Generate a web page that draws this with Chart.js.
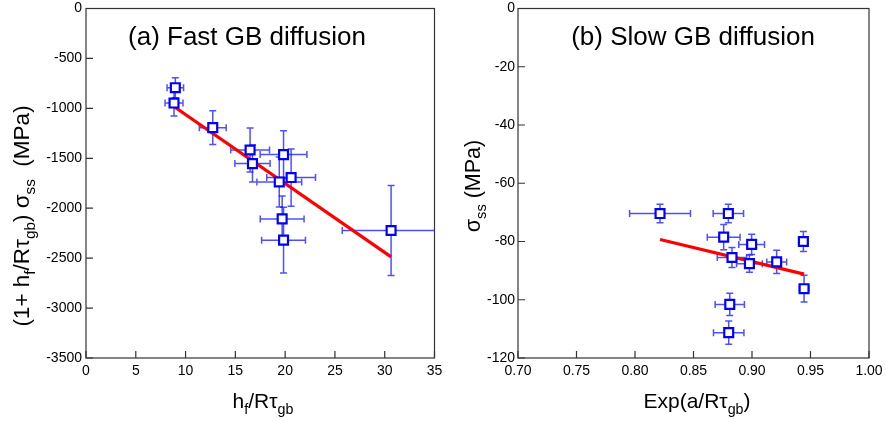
<!DOCTYPE html>
<html><head><meta charset="utf-8">
<script src="https://cdn.jsdelivr.net/npm/chart.js@4.4.0/dist/chart.umd.min.js"></script>
<style>
html,body{margin:0;padding:0;background:#fff;}
#wrap{position:relative;width:886px;height:422px;}
canvas{position:absolute;top:0;}
</style></head><body>
<div id="wrap">
<canvas id="c1" width="443" height="422" style="left:0"></canvas>
<canvas id="c2" width="443" height="422" style="left:443px"></canvas>
</div>
<script>
// ---- Panel (a): Fast GB diffusion ----
const xA    = [8.97, 8.84, 12.73, 16.48, 16.72, 19.84, 20.60, 19.41, 19.70, 19.84, 30.64];
const yA    = [-793, -947, -1193, -1417, -1553, -1463, -1693, -1737, -2107, -2320, -2223];
const xErrA = [0.83, 0.9, 1.35, 1.95, 1.77, 2.35, 2.45, 2.25, 2.2, 2.2, 4.9];
const yErrA = [100, 130, 170, 220, 185, 240, 287, 250, 230, 330, 450];
const fitXA = [8.9, 30.64];
const fitYA = [-987, -2487];
const ticksXA = [0, 5, 10, 15, 20, 25, 30, 35];
const ticksYA = [0, -500, -1000, -1500, -2000, -2500, -3000, -3500];

// ---- Panel (b): Slow GB diffusion ----
const xB    = [0.8214, 0.8798, 0.8758, 0.8997, 0.8829, 0.8978, 0.9211, 0.9439, 0.9445, 0.8810, 0.8801];
const yB    = [-70.4, -70.4, -78.5, -81.0, -85.5, -87.6, -87.0, -80.0, -96.2, -101.6, -111.3];
const xErrB = [0.026, 0.013, 0.014, 0.011, 0.0126, 0.011, 0.0085, 0.004, 0.004, 0.0125, 0.013];
const yErrB = [3.2, 3.2, 4.3, 3.5, 3.4, 3.0, 4.0, 3.4, 4.6, 3.8, 4.0];
const fitXB = [0.8214, 0.9445];
const fitYB = [-79.3, -91.2];
const ticksXB = ['0.70', '0.75', '0.80', '0.85', '0.90', '0.95', '1.00'];
const ticksYB = [0, -20, -40, -60, -80, -100, -120];

const FONT = "'Liberation Sans', Arial, Helvetica, sans-serif";

function drawRich(ctx, segs, x, y, size) {
  const subSize = size * 0.68;
  let total = 0;
  const w = segs.map(s => {
    ctx.font = (s.sub ? subSize : size) + 'px ' + FONT;
    const m = ctx.measureText(s.t).width;
    total += m;
    return m;
  });
  let cx = x - total / 2;
  ctx.textAlign = 'left';
  ctx.textBaseline = 'alphabetic';
  segs.forEach((s, i) => {
    ctx.font = (s.sub ? subSize : size) + 'px ' + FONT;
    ctx.fillText(s.t, cx, y + (s.sub ? size * 0.28 : 0));
    cx += w[i];
  });
}

function decoPlugin(cfg) {
  return {
    id: 'deco',
    beforeDatasetsDraw(chart) {
      const ctx = chart.ctx, a = chart.chartArea;
      const xs = chart.scales.x, ys = chart.scales.y;
      ctx.save();
      ctx.beginPath();
      ctx.rect(a.left, a.top, a.right - a.left, a.bottom - a.top);
      ctx.clip();
      ctx.strokeStyle = 'rgba(20,20,255,0.75)';
      ctx.lineWidth = 1.5;
      const cap = 3.5;
      cfg.x.forEach((xv, i) => {
        const px = xs.getPixelForValue(xv), py = ys.getPixelForValue(cfg.y[i]);
        const x1 = xs.getPixelForValue(xv - cfg.xe[i]), x2 = xs.getPixelForValue(xv + cfg.xe[i]);
        const y1 = ys.getPixelForValue(cfg.y[i] - cfg.ye[i]), y2 = ys.getPixelForValue(cfg.y[i] + cfg.ye[i]);
        ctx.beginPath();
        ctx.moveTo(x1, py); ctx.lineTo(x2, py);
        ctx.moveTo(x1, py - cap); ctx.lineTo(x1, py + cap);
        ctx.moveTo(x2, py - cap); ctx.lineTo(x2, py + cap);
        ctx.moveTo(px, y1); ctx.lineTo(px, y2);
        ctx.moveTo(px - cap, y1); ctx.lineTo(px + cap, y1);
        ctx.moveTo(px - cap, y2); ctx.lineTo(px + cap, y2);
        ctx.stroke();
      });
      ctx.restore();
    },
    afterDraw(chart) {
      const ctx = chart.ctx, a = chart.chartArea;
      const xs = chart.scales.x, ys = chart.scales.y;
      ctx.save();
      // frame
      ctx.strokeStyle = '#333';
      ctx.lineWidth = 1.2;
      ctx.strokeRect(a.left, a.top, a.right - a.left, a.bottom - a.top);
      // inward ticks
      ctx.beginPath();
      xs.ticks.forEach((t, i) => {
        const p = xs.getPixelForTick(i);
        ctx.moveTo(p, a.bottom); ctx.lineTo(p, a.bottom - 7);
      });
      ys.ticks.forEach((t, i) => {
        const p = ys.getPixelForTick(i);
        ctx.moveTo(a.left, p); ctx.lineTo(a.left + 7, p);
      });
      ctx.stroke();
      // title
      ctx.fillStyle = '#000';
      ctx.font = '26px ' + FONT;
      ctx.textAlign = 'center';
      ctx.textBaseline = 'alphabetic';
      ctx.fillText(cfg.title, cfg.titleX, 45);
      // x title
      drawRich(ctx, cfg.xTitle, cfg.xTitleX, 408, 21);
      // y title
      ctx.translate(cfg.yTitleX, cfg.yTitleY);
      ctx.rotate(-Math.PI / 2);
      drawRich(ctx, cfg.yTitle, 0, 0, cfg.yTitleSize);
      ctx.restore();
    }
  };
}

function makeChart(id, d) {
  const pts = d.x.map((v, i) => ({x: v, y: d.y[i]}));
  const fit = d.fx.map((v, i) => ({x: v, y: d.fy[i]}));
  return new Chart(document.getElementById(id), {
    type: 'scatter',
    data: {
      datasets: [
        {type: 'line', data: fit, borderColor: '#ff0000', borderWidth: 3.2, pointRadius: 0, fill: false, order: 1, tension: 0},
        {data: pts, pointStyle: 'rect', pointRadius: 6.3, pointBorderWidth: 2.2, borderColor: '#0000ff', backgroundColor: '#ffffff', pointBackgroundColor: '#ffffff', pointBorderColor: '#0000ff', order: 0}
      ]
    },
    options: {
      responsive: false,
      devicePixelRatio: 1,
      animation: false,
      layout: {padding: {left: 0, right: d.padRight, top: 8, bottom: 34}},
      plugins: {legend: {display: false}, tooltip: {enabled: false}},
      scales: {
        x: {
          type: 'linear', min: d.xmin, max: d.xmax,
          grid: {display: false, drawTicks: false},
          border: {display: false},
          afterBuildTicks: s => { s.ticks = d.tx.map(v => ({value: +v})); },
          ticks: {color: '#000', padding: 5, font: {family: FONT, size: 14}, maxRotation: 0, autoSkip: false,
                  callback: (v, i) => String(d.tx[i])},
          afterFit: s => { s.height = 30; s.paddingLeft = 0; s.paddingRight = 0; s.paddingTop = 0; s.paddingBottom = 0; }
        },
        y: {
          type: 'linear', min: d.ymin, max: d.ymax,
          grid: {display: false, drawTicks: false},
          border: {display: false},
          afterBuildTicks: s => { s.ticks = d.ty.map(v => ({value: v})).sort((p, q) => p.value - q.value); },
          ticks: {color: '#000', padding: d.yPad, font: {family: FONT, size: 14}, autoSkip: false,
                  callback: v => String(v)},
          afterFit: s => { s.width = d.yWidth; s.paddingLeft = 0; s.paddingRight = 0; s.paddingTop = 0; s.paddingBottom = 0; }
        }
      }
    },
    plugins: [decoPlugin(d.deco)]
  });
}

makeChart('c1', {
  x: xA, y: yA, fx: fitXA, fy: fitYA, tx: ticksXA, ty: ticksYA,
  xmin: 0, xmax: 35, ymin: -3500, ymax: 0, padRight: 6, yWidth: 86, yPad: 4,
  deco: {
    x: xA, y: yA, xe: xErrA, ye: yErrA,
    title: '(a) Fast GB diffusion', titleX: 247,
    xTitle: [{t: 'h'}, {t: 'f', sub: true}, {t: '/R\u03C4'}, {t: 'gb', sub: true}], xTitleX: 263,
    yTitle: [{t: '(1+ h'}, {t: 'f', sub: true}, {t: '/R\u03C4'}, {t: 'gb', sub: true}, {t: ') \u03C3'}, {t: 'ss', sub: true}, {t: '  (MPa)'}],
    yTitleX: 29, yTitleY: 216, yTitleSize: 22.5
  }
});

makeChart('c2', {
  x: xB, y: yB, fx: fitXB, fy: fitYB, tx: ticksXB, ty: ticksYB,
  xmin: 0.7, xmax: 1.0, ymin: -120, ymax: 0, padRight: 17, yWidth: 75, yPad: 3,
  deco: {
    x: xB, y: yB, xe: xErrB, ye: yErrB,
    title: '(b) Slow GB diffusion', titleX: 250,
    xTitle: [{t: 'Exp(a/R\u03C4'}, {t: 'gb', sub: true}, {t: ')'}], xTitleX: 254,
    yTitle: [{t: '\u03C3'}, {t: 'ss', sub: true}, {t: ' (MPa)'}],
    yTitleX: 37, yTitleY: 186, yTitleSize: 21.5
  }
});
</script>
</body></html>
